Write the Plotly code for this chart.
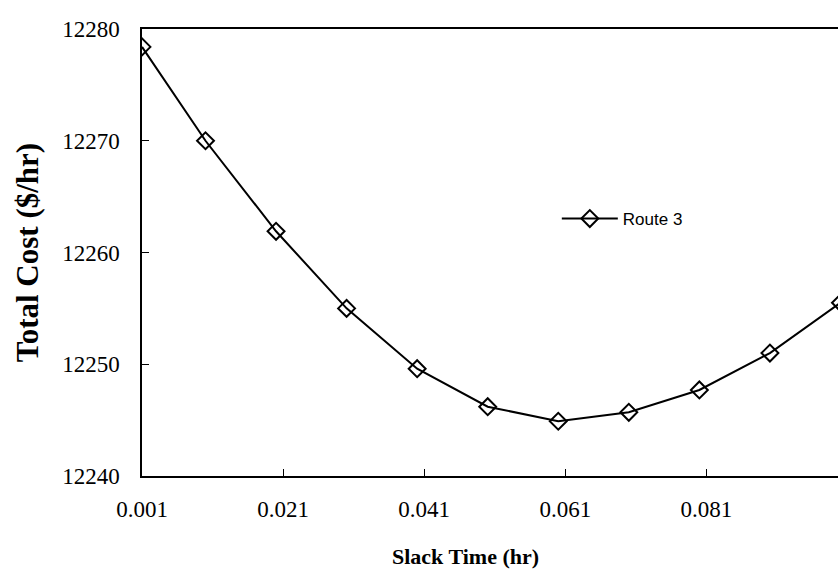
import plotly.graph_objects as go

slack_time = [0.001, 0.01, 0.02, 0.03, 0.04, 0.05, 0.06, 0.07, 0.08, 0.09, 0.1]
total_cost = [12278.4, 12270.0, 12261.9, 12255.0, 12249.6, 12246.2, 12244.9, 12245.7, 12247.7, 12251.0, 12255.5]
x_ticks = [0.001, 0.021, 0.041, 0.061, 0.081]
x_tick_labels = ["0.001", "0.021", "0.041", "0.061", "0.081"]
y_ticks = [12240, 12250, 12260, 12270, 12280]
y_tick_labels = ["12240", "12250", "12260", "12270", "12280"]
series_name = "Route 3"
x_title = "Slack Time (hr)"
y_title = "Total Cost ($/hr)"

serif = "Liberation Serif, Times New Roman, serif"

fig = go.Figure()
fig.add_trace(go.Scatter(
    x=slack_time, y=total_cost, name=series_name, mode="lines+markers",
    line=dict(color="black", width=2),
    marker=dict(symbol="diamond-open", size=13, color="black", line=dict(width=2, color="black")),
))

fig.update_layout(
    width=838, height=577,
    margin=dict(l=142, r=0, t=29, b=101),
    paper_bgcolor="white", plot_bgcolor="white",
    showlegend=True,
    legend=dict(x=0.596, y=0.575, xanchor="left", yanchor="middle",
                font=dict(family="Liberation Sans, Arial, sans-serif", size=17, color="black"),
                bgcolor="rgba(0,0,0,0)", itemwidth=56),
    xaxis=dict(
        range=[0.001, 0.09965], tickvals=x_ticks, ticktext=x_tick_labels,
        showline=True, linecolor="black", linewidth=1.5, mirror=True,
        ticks="inside", ticklen=7, tickcolor="black", showgrid=False, zeroline=False,
        tickfont=dict(family=serif, size=23, color="black"), ticklabelstandoff=12,
    ),
    yaxis=dict(
        range=[12240, 12280], tickvals=y_ticks, ticktext=y_tick_labels,
        showline=True, linecolor="black", linewidth=1.5, mirror=False,
        ticks="inside", ticklen=7, tickcolor="black", showgrid=False, zeroline=False,
        tickfont=dict(family=serif, size=23, color="black"), ticklabelstandoff=16,
        title=dict(text="<b>" + y_title + "</b>", font=dict(family=serif, size=31, color="black"), standoff=14),
    ),
)

fig.add_annotation(
    text="<b>" + x_title + "</b>", xref="paper", yref="paper",
    x=(465 - 142) / 696, y=-(556 - 476) / 447, xanchor="center", yanchor="middle",
    showarrow=False, font=dict(family=serif, size=22, color="black"),
)

fig.write_html("out.html")
